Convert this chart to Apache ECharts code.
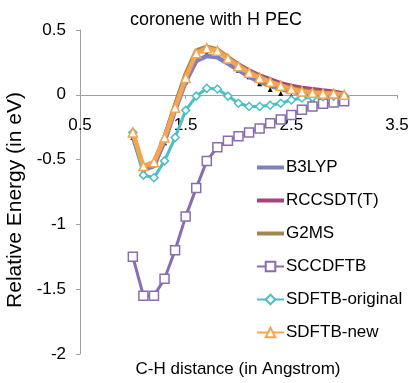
<!DOCTYPE html>
<html>
<head>
<meta charset="utf-8">
<script src="https://cdn.jsdelivr.net/npm/echarts@6/dist/echarts.min.js"></script>
<style>
  html, body { margin: 0; padding: 0; background: #fff; }
  #chart { width: 412px; height: 383px; }
</style>
</head>
<body>
<div id="chart"></div>
<script>
// C-H distance in Angstrom
const distances = [1.0, 1.1, 1.2, 1.3, 1.4, 1.5, 1.6, 1.7, 1.8, 1.9, 2.0,
  2.1, 2.2, 2.3, 2.4, 2.5, 2.6, 2.7, 2.8, 2.9, 3.0];

// relative energies (eV)
const b3lyp = [-0.32, -0.58, -0.55, -0.36, -0.12, 0.10, 0.26, 0.30, 0.29, 0.24, 0.19,
  0.14, 0.10, 0.07, 0.045, 0.025, 0.01, 0.0, -0.01, -0.02, -0.03];
const rccsdt = [-0.30, -0.56, -0.52, -0.32, -0.08, 0.15, 0.33, 0.36, 0.345, 0.29, 0.235,
  0.19, 0.15, 0.12, 0.09, 0.07, 0.055, 0.045, 0.035, 0.025, 0.01];
const g2ms = [-0.30, -0.57, -0.53, -0.33, -0.08, 0.16, 0.34, 0.37, 0.35, 0.29, 0.23,
  0.18, 0.14, 0.10, 0.07, 0.05, 0.035, 0.025, 0.015, 0.01, 0.0];
const sccdftb = [-1.25, -1.55, -1.55, -1.42, -1.20, -0.94, -0.72, -0.51, -0.405, -0.355, -0.32,
  -0.29, -0.26, -0.22, -0.19, -0.155, -0.115, -0.09, -0.07, -0.06, -0.05];
const sdftbOriginal = [-0.29, -0.62, -0.64, -0.51, -0.33, -0.12, -0.01, 0.05, 0.045, -0.01, -0.065,
  -0.09, -0.09, -0.08, -0.065, -0.04, -0.025, -0.02, -0.015, -0.01, -0.005];
const sdftbNew = [-0.29, -0.55, -0.52, -0.33, -0.10, 0.13, 0.32, 0.36, 0.34, 0.28, 0.22,
  0.17, 0.13, 0.10, 0.07, 0.045, 0.025, 0.015, 0.01, 0.01, 0.0];
// unlabelled black triangle points (no legend entry in the figure)
const extraPoints = [-0.33, -0.58, -0.54, -0.37, -0.12, 0.10, 0.28, 0.32, 0.31, 0.25, 0.19,
  0.14, 0.085, 0.04, 0.01, -0.01, -0.025, -0.035, -0.045, -0.05, -0.06];

const yTicks = [-2, -1.5, -1, -0.5, 0, 0.5];
const xTicks = [0.5, 1.5, 2.5, 3.5];

const fontFamily = 'Liberation Sans';
const pair = (arr) => distances.map((d, i) => [d, arr[i]]);
const lineIcon = 'path://M0,0H27V4H0Z'; // plain line icon for series without markers

const W = 412, H = 383;
const grid = { left: 80, right: 15, top: 30, bottom: 29 };
// lift the x axis up to y = 0, as in the Excel original
const yMin = yTicks[0], yMax = yTicks[yTicks.length - 1];
const plotH = H - grid.top - grid.bottom;
const xAxisOffset = -((0 - yMin) / (yMax - yMin)) * plotH;

const chart = echarts.init(document.getElementById('chart'));

const lineSeries = (name, data, color, width, extra = {}) => ({
  name,
  type: 'line',
  data: pair(data),
  symbol: 'none',
  lineStyle: { color, width },
  itemStyle: { color },
  emphasis: { disabled: true },
  animation: false,
  ...extra,
});

chart.setOption({
  backgroundColor: '#fff',
  animation: false,
  textStyle: { fontFamily },
  grid: { ...grid, containLabel: false, outerBoundsMode: 'none' },
  graphic: [
    {
      type: 'text', x: 216, y: 11,
      style: { text: 'coronene with H PEC', fill: '#000', font: `18px ${fontFamily}`, textAlign: 'center' },
    },
    {
      type: 'text', x: 238, y: 361,
      style: { text: 'C-H distance (in Angstrom)', fill: '#000', font: `17px ${fontFamily}`, textAlign: 'center' },
    },
  ],
  legend: {
    orient: 'vertical',
    left: 251,
    top: 154,
    itemWidth: 27,
    itemHeight: 12,
    itemGap: 16,
    data: [
      { name: 'B3LYP', icon: lineIcon },
      { name: 'RCCSDT(T)', icon: lineIcon },
      { name: 'G2MS', icon: lineIcon },
      'SCCDFTB', 'SDFTB-original', 'SDFTB-new',
    ],
    textStyle: { fontFamily, fontSize: 17, color: '#000', padding: [0, 0, 0, -3] },
  },
  xAxis: {
    type: 'value',
    position: 'bottom',
    offset: xAxisOffset,
    min: xTicks[0],
    max: xTicks[xTicks.length - 1],
    interval: 1,
    z: 0,
    axisLine: { show: true, onZero: false, lineStyle: { color: '#a0a0a0', width: 1 } },
    axisTick: { show: true, length: 4, inside: false, lineStyle: { color: '#a0a0a0' } },
    axisLabel: { fontFamily, fontSize: 17, color: '#000', margin: 22 },
    splitLine: { show: false },
  },
  yAxis: {
    type: 'value',
    min: yMin,
    max: yMax,
    interval: 0.5,
    name: 'Relative Energy (in eV)',
    nameLocation: 'middle',
    nameGap: 47,
    nameTextStyle: { fontFamily, fontSize: 21, color: '#000', padding: [0, 16, 0, 0] },
    axisLine: { show: true, onZero: false, lineStyle: { color: '#a0a0a0', width: 1 } },
    axisTick: { show: true, length: 4, lineStyle: { color: '#a0a0a0' } },
    axisLabel: { fontFamily, fontSize: 17, color: '#000', margin: 14 },
    splitLine: { show: false },
  },
  series: [
    lineSeries('B3LYP', b3lyp, '#7f80c0', 4.5),
    lineSeries('RCCSDT(T)', rccsdt, '#a3457c', 4),
    lineSeries('G2MS', g2ms, '#a3864f', 4.5),
    lineSeries('SCCDFTB', sccdftb, '#8a6db1', 3, {
      symbol: 'rect', symbolSize: 9,
      itemStyle: { color: '#fff', borderColor: '#8a6db1', borderWidth: 1.5 },
    }),
    lineSeries('SDFTB-original', sdftbOriginal, '#4bbfc4', 3, {
      symbol: 'diamond', symbolSize: 8,
      itemStyle: { color: '#fff', borderColor: '#4bbfc4', borderWidth: 1.5 },
    }),
    lineSeries('SDFTB-new', sdftbNew, '#f7a44e', 4.5, {
      symbol: 'triangle', symbolSize: 9,
      itemStyle: { color: '#fff', borderColor: '#f7a44e', borderWidth: 1.5 },
    }),
    lineSeries('', extraPoints, '#000', 0, {
      symbol: 'triangle', symbolSize: 5,
      lineStyle: { width: 0, opacity: 0 },
      itemStyle: { color: '#000' },
      z: 1,
    }),
  ],
});
</script>
</body>
</html>
